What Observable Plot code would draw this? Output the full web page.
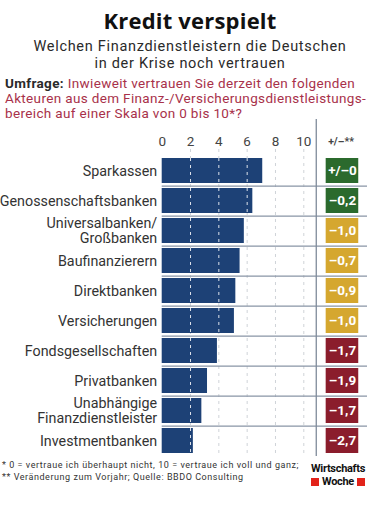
<!DOCTYPE html>
<html>
<head>
<meta charset="utf-8">
<script src="https://cdn.jsdelivr.net/npm/d3@7"></script>
<script src="https://cdn.jsdelivr.net/npm/@observablehq/plot@0.6"></script>
<style>
  body { margin: 0; background: #fff; font-family: Roboto, "Noto Sans", sans-serif; }
  #wrap { position: relative; width: 380px; height: 507px; overflow: hidden; }
  .title { text-align: center; font-family: "Open Sans", Roboto, sans-serif; font-weight: bold; font-size: 22px; line-height: 24px; padding-top: 8px; color: #111; letter-spacing: 0.2px; }
  .sub { position: relative; top: 1px; text-align: center; font-size: 14.5px; line-height: 17px; margin-top: 5px; color: #2a2a2a; letter-spacing: 0.7px; }
  .q { position: relative; top: 2px; font-size: 13.5px; line-height: 15px; margin-top: 3px; padding-left: 5px; color: #a8314a; letter-spacing: 0.35px; white-space: nowrap; }
  .q b { color: #2a2a2a; }
  .foot { font-size: 9px; line-height: 12px; padding-left: 2px; color: #333; letter-spacing: 0.55px; white-space: nowrap; }
  .logo { position: absolute; left: 305px; top: 462px; width: 66px; font-weight: bold; color: #111; font-size: 11px; line-height: 13px; text-align: center; letter-spacing: -0.3px; }
  .logo .sq { display: inline-block; width: 8px; height: 8px; background: #e2231a; vertical-align: -1px; margin: 0 3px; }
  svg { display: block; }
</style>
</head>
<body>
<div id="wrap">
  <div class="title">Kredit verspielt</div>
  <div class="sub">Welchen Finanzdienstleistern die Deutschen<br>in der Krise noch vertrauen</div>
  <div class="q"><b>Umfrage:</b> Inwieweit vertrauen Sie derzeit den folgenden<br>Akteuren aus dem Finanz-/Versicherungsdienstleistungs-<br>bereich auf einer Skala von 0 bis 10*?</div>
  <div id="chart"></div>
  <div class="foot">* 0 = vertraue ich überhaupt nicht, 10 = vertraue ich voll und ganz;<br>** Veränderung zum Vorjahr; Quelle: BBDO Consulting</div>
  <div class="logo">Wirtschafts<br><span class="sq"></span>Woche<span class="sq"></span></div>
</div>
<script>
const categories = [
  "Sparkassen",
  "Genossenschaftsbanken",
  "Universalbanken/\nGroßbanken",
  "Baufinanzierern",
  "Direktbanken",
  "Versicherungen",
  "Fondsgesellschaften",
  "Privatbanken",
  "Unabhängige\nFinanzdienstleister",
  "Investmentbanken"
];
const trust = [7.1, 6.4, 5.8, 5.5, 5.2, 5.1, 3.9, 3.2, 2.8, 2.2];
const change = [0, -0.2, -1.0, -0.7, -0.9, -1.0, -1.7, -1.9, -1.7, -2.7];
const xTicks = [0, 2, 4, 6, 8, 10];

const rows = categories.map((c, i) => ({cat: c, trust: trust[i], change: change[i]}));
const fmt = v => v === 0 ? "+/–0" : "–" + Math.abs(v).toFixed(1).replace(".", ",");
const boxColor = v => v > -0.5 ? "#2b6a2d" : v > -1.5 ? "#d5a72f" : "#8b1d2c";

// white dashes over the bars
const inner = [];
rows.forEach(r => xTicks.filter(t => t > 0 && t < r.trust).forEach(t => inner.push({cat: r.cat, t})));

const step = 30.44;
const r0 = 34.3;
const BOX1 = 11.58, BOX2 = 13.88, SEP = 10.88, XEND = 14.5, HEAD = 12.63;

const chart = Plot.plot({
  width: 380,
  height: 340,
  marginLeft: 161.7,
  marginRight: 76.7,
  marginTop: 30,
  marginBottom: 4,
  style: {fontFamily: "Roboto, 'Noto Sans', sans-serif", background: "#fff", color: "#333"},
  x: {domain: [0, 10], axis: null},
  y: {domain: categories, range: [r0, r0 + step * 10], paddingInner: 0.18, paddingOuter: 0.09, axis: null},
  marks: [
    Plot.ruleX(xTicks.filter(t => t > 0), {stroke: "#cfd3d8", strokeDasharray: "3,4", strokeWidth: 1}),
    Plot.ruleY(categories.slice(0, -1), {x1: 0, x2: XEND, dy: step / 2, stroke: "#8995a6", strokeWidth: 1.3}),
    Plot.ruleX([SEP], {stroke: "#7f8b9a", strokeWidth: 1.3, insetTop: -30, insetBottom: -1}),
    Plot.barX(rows, {y: "cat", x1: 0, x2: "trust", fill: "#1d4176"}),
    Plot.tickX(inner, {y: "cat", x: "t", stroke: "#ffffff", strokeOpacity: 0.85, strokeDasharray: "3,4", strokeWidth: 1}),
    Plot.text(categories, {y: d => d, x: 0, dx: -5, textAnchor: "end", fontSize: 14.3, lineHeight: 1.05, fill: "#333"}),
    Plot.text(xTicks, {x: d => d, frameAnchor: "top", dy: -8, lineAnchor: "middle", fontSize: 13.5, fill: "#444"}),
    Plot.text(["+/–**"], {x: HEAD, frameAnchor: "top", dy: -8, lineAnchor: "middle", fontSize: 10.5, fontWeight: "bold", fill: "#444"}),
    Plot.barX(rows, {y: "cat", x1: BOX1, x2: BOX2, fill: d => boxColor(d.change)}),
    Plot.text(rows, {y: "cat", x: (BOX1 + BOX2) / 2, text: d => fmt(d.change), fill: "#fff", fontWeight: "bold", fontSize: 13.5})
  ]
});
document.getElementById("chart").appendChild(chart);
</script>
</body>
</html>
